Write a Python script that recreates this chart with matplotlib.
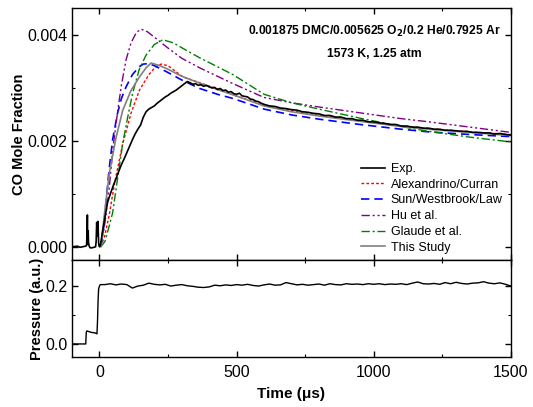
import numpy as np
import matplotlib
matplotlib.use("Agg")
import matplotlib.pyplot as plt
from matplotlib.ticker import MultipleLocator

plt.rcParams['font.family'] = ['Liberation Sans', 'DejaVu Sans']

# ---------------- data (CO in units of 1e-3 mole fraction) ----------------
exp_t_pre = [-100, -80, -70, -60, -52, -47, -45, -44, -43, -42, -41, -40, -38, -34, -28, -20,
             -14, -12, -11, -10, -9, -8, -7, -6, -5, -4, -3, -2, 0, 3, 6]
exp_v_pre = [0.00, 0.01, -0.01, 0.00, 0.01, 0.02, 0.30, 0.60, 0.20, 0.05, 0.30, 0.10, 0.02, -0.02,
             -0.02, -0.01, 0.00, 0.10, 0.30, 0.46, 0.30, 0.20, 0.35, 0.48, 0.40, 0.20, 0.08,
             0.03, 0.00, 0.02, 0.10]
exp_t_mid = list(range(10, 601, 10))
exp_v_mid = [0.25, 0.55, 0.85, 1.00, 1.15, 1.28, 1.42, 1.55, 1.66, 1.78,
             1.90, 2.02, 2.13, 2.22, 2.30, 2.45, 2.55, 2.60, 2.63, 2.66,
             2.71, 2.75, 2.79, 2.83, 2.86, 2.90, 2.93, 2.96, 3.00, 3.04,
             3.08, 3.12, 3.10, 3.07, 3.08, 3.05, 3.06, 3.03, 3.05, 3.02,
             3.00, 3.01, 2.97, 2.99, 2.95, 2.96, 2.92, 2.93, 2.89, 2.88,
             2.90, 2.85, 2.84, 2.83, 2.79, 2.78, 2.75, 2.74, 2.71, 2.69]
exp_t_late = list(range(620, 1501, 20))
exp_v_late = [2.66, 2.65, 2.62, 2.61, 2.59, 2.58, 2.55, 2.54, 2.52, 2.51,
              2.48, 2.48, 2.45, 2.45, 2.42, 2.42, 2.39, 2.39, 2.36, 2.36,
              2.34, 2.33, 2.31, 2.31, 2.28, 2.28, 2.26, 2.26, 2.24, 2.24,
              2.22, 2.22, 2.20, 2.20, 2.19, 2.18, 2.18, 2.16, 2.16, 2.15,
              2.15, 2.13, 2.14, 2.12, 2.11]

alex_t = [5, 20, 36, 55, 85, 115, 146, 180, 205, 225, 250, 304, 365, 430, 487, 600, 700, 800, 949, 1100, 1200, 1350, 1500]
alex_v = [0, 0.22, 0.61, 1.20, 1.95, 2.52, 2.96, 3.25, 3.40, 3.45, 3.42, 3.21, 3.10, 2.98, 2.87, 2.67, 2.57, 2.48, 2.38, 2.28, 2.23, 2.17, 2.12]

sun_t = [5, 15, 23, 35, 48, 65, 80, 97, 120, 145, 160, 180, 200, 243, 300, 365, 430, 487, 600, 700, 800, 949, 1100, 1200, 1350, 1500]
sun_v = [0, 0.35, 0.79, 1.45, 2.02, 2.50, 2.80, 3.02, 3.25, 3.40, 3.45, 3.46, 3.42, 3.31, 3.15, 2.99, 2.88, 2.80, 2.60, 2.49, 2.41, 2.31, 2.22, 2.17, 2.12, 2.08]

hu_t = [5, 20, 36, 50, 67, 80, 97, 115, 135, 152, 175, 200, 243, 300, 365, 430, 487, 600, 700, 800, 949, 1100, 1200, 1350, 1500]
hu_v = [0, 0.45, 1.13, 1.90, 2.58, 3.05, 3.53, 3.85, 4.05, 4.11, 4.06, 3.96, 3.78, 3.56, 3.38, 3.22, 3.08, 2.82, 2.72, 2.64, 2.53, 2.42, 2.36, 2.26, 2.16]

glaude_t = [5, 20, 36, 48, 65, 85, 105, 121, 145, 170, 200, 231, 270, 320, 365, 430, 487, 600, 700, 800, 949, 1100, 1200, 1350, 1500]
glaude_v = [0, 0.10, 0.40, 0.64, 1.25, 1.96, 2.50, 2.90, 3.35, 3.62, 3.82, 3.91, 3.85, 3.70, 3.57, 3.40, 3.25, 2.88, 2.72, 2.60, 2.43, 2.27, 2.18, 2.07, 1.98]

this_t = [5, 20, 36, 60, 85, 115, 146, 170, 188, 215, 243, 300, 365, 430, 487, 600, 700, 800, 949, 1100, 1200, 1350, 1500]
this_v = [0, 0.70, 1.39, 2.05, 2.58, 2.95, 3.21, 3.38, 3.47, 3.43, 3.37, 3.22, 3.09, 2.97, 2.87, 2.66, 2.55, 2.47, 2.37, 2.27, 2.22, 2.16, 2.10]

p_t_pre = [-100, -50, -48, -46, -30, -15, -9, -7, -5, -3, 0, 3]
p_v_pre = [0.0, 0.0, 0.040, 0.045, 0.040, 0.038, 0.035, 0.08, 0.15, 0.19, 0.20, 0.205]
p_t = list(range(20, 1501, 20))
p_v = [0.205, 0.208, 0.204, 0.207, 0.205, 0.193, 0.200, 0.203, 0.210, 0.206,
       0.204, 0.206, 0.200, 0.203, 0.205, 0.201, 0.199, 0.196, 0.195, 0.197,
       0.203, 0.201, 0.204, 0.202, 0.205, 0.203, 0.206, 0.202, 0.200, 0.204,
       0.207, 0.203, 0.204, 0.212, 0.208, 0.204, 0.206, 0.203, 0.205, 0.207,
       0.203, 0.208, 0.205, 0.204, 0.208, 0.206, 0.207, 0.205, 0.208, 0.206,
       0.208, 0.205, 0.207, 0.206, 0.208, 0.205, 0.210, 0.214, 0.208, 0.207,
       0.209, 0.206, 0.212, 0.208, 0.213, 0.209, 0.207, 0.210, 0.211, 0.215,
       0.210, 0.208, 0.211, 0.206, 0.200]

title1 = r"0.001875 DMC/0.005625 O$_\mathbf{2}$/0.2 He/0.7925 Ar"
title2 = "1573 K, 1.25 atm"
labels = ["Exp.", "Alexandrino/Curran", "Sun/Westbrook/Law", "Hu et al.", "Glaude et al.", "This Study"]

# ---------------- figure ----------------
fig = plt.figure(figsize=(5.33, 4.07), dpi=100)
ax1 = fig.add_axes([0.1351, 0.3612, 0.8236, 0.6192])
ax2 = fig.add_axes([0.1351, 0.1229, 0.8236, 0.2383], sharex=ax1)

sc = 1e-3
exp_t = exp_t_pre + exp_t_mid + exp_t_late
exp_v = np.array(exp_v_pre + exp_v_mid + exp_v_late) * sc

ax1.plot(exp_t, exp_v, color='black', lw=1.2, label=labels[0], zorder=5)
ax1.plot(alex_t, np.array(alex_v) * sc, color='#ff0000', lw=1.0, ls=(0, (2, 1.5)), label=labels[1])
ax1.plot(sun_t, np.array(sun_v) * sc, color='#0000ff', lw=1.2, ls=(0, (5, 3)), label=labels[2])
ax1.plot(hu_t, np.array(hu_v) * sc, color='#800080', lw=1.0, ls=(0, (6, 2, 1.5, 2, 1.5, 2)), label=labels[3])
ax1.plot(glaude_t, np.array(glaude_v) * sc, color='#008000', lw=1.0, ls=(0, (6, 2, 1.5, 2)), label=labels[4])
ax1.plot(this_t, np.array(this_v) * sc, color='#808080', lw=1.2, label=labels[5])

ax1.set_xlim(-100, 1500)
ax1.set_ylim(-0.00025, 0.00451)
ax1.yaxis.set_major_locator(MultipleLocator(0.002))
ax1.yaxis.set_minor_locator(MultipleLocator(0.001))
ax1.xaxis.set_major_locator(MultipleLocator(500))
ax1.xaxis.set_minor_locator(MultipleLocator(250))
ax1.yaxis.set_major_formatter(matplotlib.ticker.FormatStrFormatter('%.3f'))
ax1.tick_params(labelbottom=False)
ax1.set_ylabel("CO Mole Fraction", fontsize=10.5, fontweight='bold', labelpad=1)

ax1.text(0.688, 0.905, title1, transform=ax1.transAxes, ha='center', va='center',
         fontsize=8.7, fontweight='bold')
ax1.text(0.688, 0.817, title2, transform=ax1.transAxes, ha='center', va='center',
         fontsize=8.7, fontweight='bold')

ax1.legend(loc='upper left', bbox_to_anchor=(0.658, 0.385), frameon=False, fontsize=9,
           handlelength=1.9, handletextpad=0.5, labelspacing=0.3, borderpad=0,
           borderaxespad=0)

ax2.plot(p_t_pre + p_t, p_v_pre + p_v, color='black', lw=1.0)
ax2.set_ylim(-0.045, 0.29)
ax2.yaxis.set_major_locator(MultipleLocator(0.2))
ax2.yaxis.set_minor_locator(MultipleLocator(0.1))
ax2.yaxis.set_major_formatter(matplotlib.ticker.FormatStrFormatter('%.1f'))
ax2.set_xlabel("Time (μs)", fontsize=11, fontweight='bold', labelpad=5)
ax2.set_ylabel("Pressure (a.u.)", fontsize=10.5, fontweight='bold', labelpad=1)

for ax in (ax1, ax2):
    ax.tick_params(which='both', direction='in', top=True, right=True, labelsize=11.5)
    ax.tick_params(which='major', length=4, width=1)
    ax.tick_params(which='minor', length=2.5, width=0.8)
    ax.tick_params(axis='x', pad=6)
    for s in ax.spines.values():
        s.set_linewidth(1.0)

fig.align_ylabels([ax1, ax2])
fig.savefig("out.png", dpi=100)
